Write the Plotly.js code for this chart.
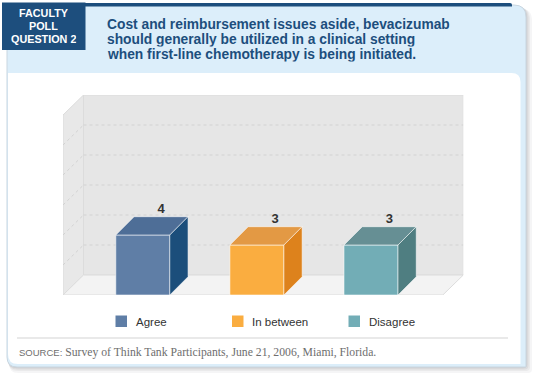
<!DOCTYPE html>
<html>
<head>
<meta charset="utf-8">
<script src="https://cdn.plot.ly/plotly-3.0.1.min.js"></script>
<style>html,body{margin:0;padding:0;background:#fff;}#chart{width:540px;height:383px;}</style>
</head>
<body>
<div id="chart"></div>
<script>
// ---- data ----
const categories = ['Agree', 'In between', 'Disagree'];
const values = [4, 3, 3];
const frontColors = ['#5F7EA6', '#FAAD40', '#72ADB6'];
const topColors = ['#4E6E97', '#E39944', '#668F94'];
const sideColors = ['#1B4E7B', '#DD821C', '#4F7E81'];
const titleLines = [
  'Cost and reimbursement issues aside, bevacizumab',
  'should generally be utilized in a clinical setting',
  'when first-line chemotherapy is being initiated.'
];
const badgeLines = ['FACULTY', 'POLL', 'QUESTION 2'];
const sourceLabel = 'SOURCE:';
const sourceText = 'Survey of Think Tank Participants, June 21, 2006, Miami, Florida.';
const gridValues = [3, 6, 9, 12, 15];

// ---- geometry (pixels) ----
const W = 540, H = 383;
const X = px => px / W;
const Y = py => 1 - py / H;
const SANS = '"Liberation Sans", Arial, sans-serif';

// axis setup
const yMin = -2, yMax = 18, backFloor = 0;         // front floor at -2, back floor at 0
const xMin = -0.6994, xMax = 2.809;
const wallDX = 0.1797;                              // wall depth in x units
const wallDY = backFloor - yMin;                    // wall depth in y units
const barW = 0.4733, barDX = 0.160, barDY = 1.83;

const xs = categories.map((c, i) => i);
const traces = [];

// front faces
traces.push({
  type: 'bar', x: xs, y: values.map(v => v - yMin), base: yMin, width: barW,
  marker: {color: frontColors, line: {color: 'rgba(255,255,255,0.55)', width: 1}},
  hoverinfo: 'skip', showlegend: false
});
// top & side faces
xs.forEach((xc, i) => {
  const v = values[i];
  const l = xc - barW / 2, r = xc + barW / 2;
  traces.push({
    type: 'scatter', mode: 'lines', fill: 'toself', fillcolor: topColors[i],
    x: [l, r, r + barDX, l + barDX, l], y: [v, v, v + barDY, v + barDY, v],
    line: {color: 'rgba(255,255,255,0.55)', width: 1}, hoverinfo: 'skip', showlegend: false
  });
  traces.push({
    type: 'scatter', mode: 'lines', fill: 'toself', fillcolor: sideColors[i],
    x: [r, r + barDX, r + barDX, r, r], y: [yMin, yMin + barDY, v + barDY, v, yMin],
    line: {color: 'rgba(255,255,255,0.55)', width: 1}, hoverinfo: 'skip', showlegend: false
  });
});
// value labels
traces.push({
  type: 'scatter', mode: 'text', x: xs.map(x => x + barDX), y: values.map(v => v + barDY),
  text: values.map(String), textposition: 'top center',
  textfont: {family: SANS, size: 13, color: '#333333', weight: 'bold'},
  hoverinfo: 'skip', showlegend: false, cliponaxis: false
});

const shapes = [];
function rr(x0, y0, x1, y1, tl, tr, br, bl) {
  const p = [];
  p.push('M' + X(x0 + tl) + ',' + Y(y0));
  p.push('L' + X(x1 - tr) + ',' + Y(y0));
  if (tr) p.push('Q' + X(x1) + ',' + Y(y0) + ' ' + X(x1) + ',' + Y(y0 + tr));
  p.push('L' + X(x1) + ',' + Y(y1 - br));
  if (br) p.push('Q' + X(x1) + ',' + Y(y1) + ' ' + X(x1 - br) + ',' + Y(y1));
  p.push('L' + X(x0 + bl) + ',' + Y(y1));
  if (bl) p.push('Q' + X(x0) + ',' + Y(y1) + ' ' + X(x0) + ',' + Y(y1 - bl));
  p.push('L' + X(x0) + ',' + Y(y0 + tl));
  if (tl) p.push('Q' + X(x0) + ',' + Y(y0) + ' ' + X(x0 + tl) + ',' + Y(y0));
  p.push('Z');
  return p.join(' ');
}
function pshape(path, fill, line, lw) {
  return {type: 'path', xref: 'paper', yref: 'paper', path: path,
    fillcolor: fill, line: {color: line || 'rgba(0,0,0,0)', width: lw || 0}, layer: 'below'};
}
// shadows
[[6, 0.05], [4, 0.06], [2.5, 0.07], [1.2, 0.08]].forEach(([o, a]) => {
  shapes.push(pshape(rr(7 + o * 0.3, 5 + o * 0.6, 526 + o, 367 + o, 0, 12, 4, 10), 'rgba(60,60,70,' + a + ')'));
});
// card (light blue)
shapes.push(pshape(rr(7, 5, 526, 367, 0, 12, 0, 10), '#DCEEFA', '#C9D6E0', 1));
// white panel
shapes.push(pshape(rr(8, 73, 520.5, 364, 0, 9, 0, 10), '#FFFFFF'));
// navy top line
shapes.push(pshape(rr(84, 3, 512, 6.5, 0, 2, 0, 0), '#1D4E7D'));
// navy badge
shapes.push(pshape(rr(2, 2.5, 85.5, 50, 0, 0, 0, 0), '#1D4E7D'));
// separator
shapes.push({type: 'line', xref: 'paper', yref: 'paper', x0: X(17), x1: X(508), y0: Y(338), y1: Y(338),
  line: {color: '#E2E2E2', width: 1.5}, layer: 'below'});

// walls (axis coords)
const bl = xMin + wallDX, fr = xMax - wallDX;
const wallLine = {color: '#DCDCDC', width: 1};
shapes.push({type: 'path', xref: 'x', yref: 'y', layer: 'below',
  path: `M${bl},${backFloor} L${xMax},${backFloor} L${xMax},${yMax} L${bl},${yMax} Z`,
  fillcolor: '#E6E6E6', line: wallLine});
shapes.push({type: 'path', xref: 'x', yref: 'y', layer: 'below',
  path: `M${xMin},${yMin} L${bl},${backFloor} L${bl},${yMax} L${xMin},${yMax - wallDY} Z`,
  fillcolor: '#E8E8E8', line: wallLine});
shapes.push({type: 'path', xref: 'x', yref: 'y', layer: 'below',
  path: `M${xMin},${yMin} L${bl},${backFloor} L${xMax},${backFloor} L${fr},${yMin} Z`,
  fillcolor: '#F3F3F3', line: wallLine});
gridValues.forEach(g => {
  shapes.push({type: 'line', xref: 'x', yref: 'y', layer: 'below', x0: bl, x1: xMax, y0: g, y1: g,
    line: {color: '#D2D2D2', width: 1, dash: 'dot'}});
  shapes.push({type: 'line', xref: 'x', yref: 'y', layer: 'below', x0: xMin, x1: bl, y0: g - wallDY, y1: g,
    line: {color: '#D2D2D2', width: 1, dash: 'dot'}});
});

// legend (manual)
const annotations = [];
categories.forEach((c, i) => {
  const lx = 115.5 + 116.5 * i;
  shapes.push({type: 'rect', xref: 'paper', yref: 'paper', x0: X(lx), x1: X(lx + 11.5), y0: Y(315.5), y1: Y(327),
    fillcolor: frontColors[i], line: {width: 0}});
  annotations.push({xref: 'paper', yref: 'paper', x: X(lx + 18), y: Y(321.5), xanchor: 'left', yanchor: 'middle',
    text: c, showarrow: false, font: {family: SANS, size: 11.5, color: '#333333'}});
});

// title lines
titleLines.forEach((t, i) => {
  annotations.push({xref: 'paper', yref: 'paper', x: X(105), y: Y(25 + 14.5 * i), xanchor: 'left', yanchor: 'middle',
    height: 14.5, text: t, showarrow: false, font: {family: SANS, size: 13.8, color: '#1D4E7D', weight: 'bold'}});
});
// badge lines
badgeLines.forEach((t, i) => {
  annotations.push({xref: 'paper', yref: 'paper', x: X(43.5), y: Y(14 + 12.7 * i), xanchor: 'center', yanchor: 'middle',
    height: 12.7, text: t, showarrow: false, font: {family: SANS, size: 10.8, color: '#FFFFFF', weight: 'bold'}});
});
// source
annotations.push({xref: 'paper', yref: 'paper', x: X(17), y: Y(352), xanchor: 'left', yanchor: 'middle',
  text: '<span style="font-family:Liberation Sans, Arial, sans-serif;font-size:9.5px;">' + sourceLabel + '</span> ' + sourceText,
  showarrow: false, font: {family: '"Liberation Serif", "Times New Roman", serif', size: 11.7, color: '#6E6E6E'}});

const layout = {
  width: W, height: H, margin: {l: 0, r: 0, t: 0, b: 0, pad: 0},
  paper_bgcolor: '#FFFFFF', plot_bgcolor: 'rgba(0,0,0,0)', showlegend: false,
  xaxis: {domain: [X(63), X(463.3)], range: [xMin, xMax], visible: false, fixedrange: true},
  yaxis: {domain: [Y(295), Y(95)], range: [yMin, yMax], visible: false, fixedrange: true},
  shapes: shapes, annotations: annotations
};
Plotly.newPlot('chart', traces, layout, {displayModeBar: false, staticPlot: true});
</script>
</body>
</html>
